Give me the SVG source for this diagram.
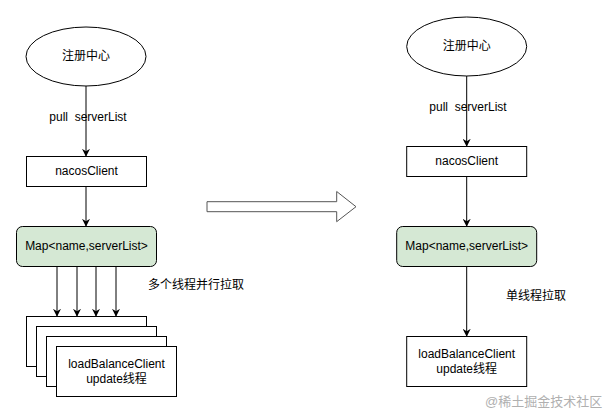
<svg xmlns="http://www.w3.org/2000/svg" width="603" height="413" viewBox="0 0 603 413">
<style>
text{font-family:"Liberation Sans","Noto Sans CJK SC",sans-serif;font-size:12px;fill:#000;text-anchor:middle;dominant-baseline:central;white-space:pre}
.s{fill:#fff;stroke:#000;stroke-width:1}
.g{fill:#d5e8d4;stroke:#000;stroke-width:1}
.c{fill:none;stroke:#000;stroke-width:1;marker-end:url(#a)}
.wm{fill:#b0b0b0;font-size:13px;text-anchor:start}
</style>
<defs>
<marker id="a" viewBox="0 0 10 10" refX="9" refY="5" markerWidth="8" markerHeight="8" markerUnits="userSpaceOnUse" orient="auto">
<path d="M0,0 L10,5 L0,10 L3,5 Z" fill="#000"/>
</marker>
</defs>
<rect width="603" height="413" fill="#fff"/>
<g id="connectors">
<path class="c" d="M86,86 V156"/>
<path class="c" d="M86,186 V226"/>
<path class="c" d="M57,266 V316"/>
<path class="c" d="M77,266 V316"/>
<path class="c" d="M96,266 V316"/>
<path class="c" d="M116,266 V316"/>
<path class="c" d="M466.7,76 V146"/>
<path class="c" d="M466.7,176 V226"/>
<path class="c" d="M466.7,266 V336"/>
</g>
<g id="left-registry"><ellipse class="s" cx="86" cy="56.5" rx="60" ry="29.5"/><text x="86" y="56">注册中心</text></g>
<g id="left-pull-label"><text x="88" y="117" xml:space="preserve">pull  serverList</text></g>
<g id="left-nacos"><rect class="s" x="26.5" y="156.5" width="120" height="30"/><text x="86.5" y="171">nacosClient</text></g>
<g id="left-map"><rect class="g" x="16.5" y="226.5" width="140" height="40" rx="6"/><text x="86.5" y="246">Map&lt;name,serverList&gt;</text></g>
<g id="left-threads-label"><text x="196" y="285">多个线程并行拉取</text></g>
<g id="left-clients">
<rect class="s" x="26.5" y="316.5" width="120" height="50"/>
<rect class="s" x="36.5" y="326.5" width="120" height="50"/>
<rect class="s" x="46.5" y="336.5" width="120" height="50"/>
<rect class="s" x="56.5" y="346.5" width="120" height="50"/>
<text x="116.5" y="364">loadBalanceClient</text>
<text x="116.5" y="379">update线程</text>
</g>
<g id="block-arrow"><path d="M207,201.7 H336.7 V191.5 L356,206.7 L336.7,221.7 V211.7 H207 Z" fill="#fff" stroke="#555" stroke-width="1"/></g>
<g id="right-registry"><ellipse class="s" cx="466.7" cy="46.5" rx="60" ry="29.5"/><text x="466.7" y="46">注册中心</text></g>
<g id="right-pull-label"><text x="468" y="107" xml:space="preserve">pull  serverList</text></g>
<g id="right-nacos"><rect class="s" x="406.7" y="146.5" width="120" height="30"/><text x="466.7" y="161">nacosClient</text></g>
<g id="right-map"><rect class="g" x="396.7" y="226.5" width="140" height="40" rx="6"/><text x="466.7" y="246">Map&lt;name,serverList&gt;</text></g>
<g id="right-thread-label"><text x="536" y="296">单线程拉取</text></g>
<g id="right-client"><rect class="s" x="406.7" y="336.5" width="120" height="50"/><text x="466.7" y="354">loadBalanceClient</text><text x="466.7" y="369">update线程</text></g>
<text class="wm" x="485" y="401">@稀土掘金技术社区</text>
</svg>
